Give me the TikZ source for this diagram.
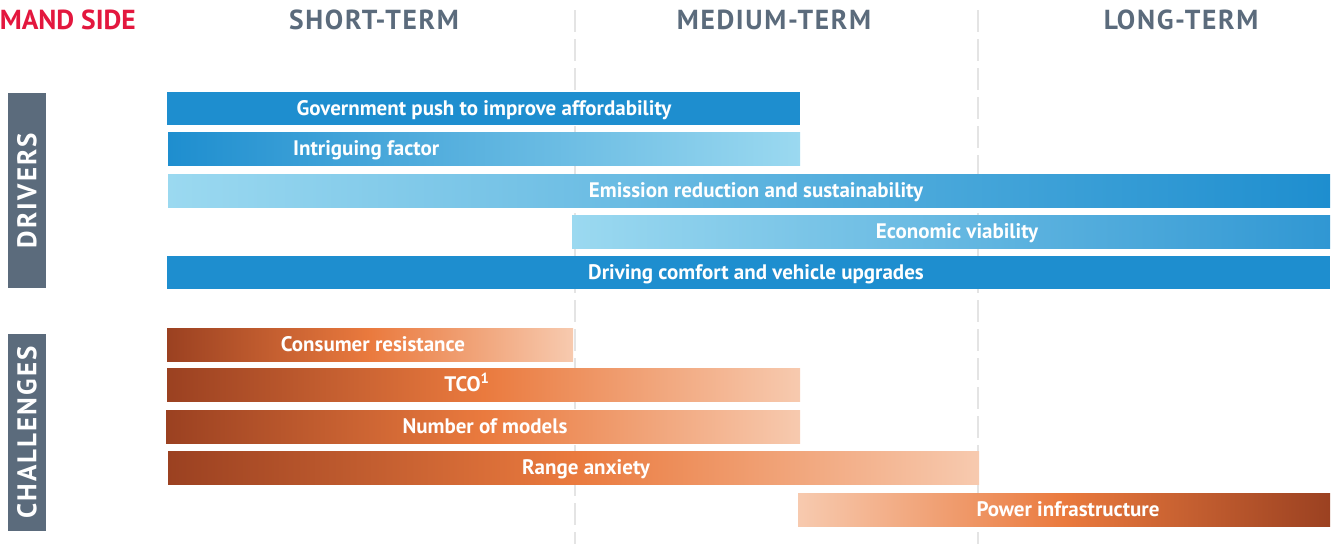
\documentclass[tikz,border=0pt]{standalone}
\usepackage{fontspec}
\setmainfont{PT Sans}
\newfontfamily\spacedfont[LetterSpace=6]{PT Sans}
\newfontfamily\widefont[LetterSpace=8]{PT Sans}

\definecolor{drvblue}{HTML}{1E8ECF}
\definecolor{drvlight}{HTML}{9BD9F0}
\definecolor{chdark}{HTML}{9B4121}
\definecolor{chorange}{HTML}{EA7A3E}
\definecolor{chlight}{HTML}{F7CAAF}
\definecolor{sidegray}{HTML}{5B6B7C}
\definecolor{demandred}{HTML}{E3173E}
\definecolor{dashgray}{HTML}{E4E4E4}

\begin{document}
\begin{tikzpicture}[
    x = 1pt, y = -1pt,
    every node/.style = { inner sep = 0pt },
    bar/.style = { rectangle, anchor = north west, minimum height = 33pt },
    challenge/.style = { left color = chdark, right color = chlight, middle color = chorange },
    barlabel/.style = {
      anchor = base, text = white, font = \bfseries\fontsize{21}{21}\selectfont
    },
    heading/.style = {
      anchor = base, text = sidegray, font = \spacedfont\bfseries\fontsize{27.5}{27.5}\selectfont
    },
    sidebox/.style = {
      rectangle, fill = sidegray, rotate = 90, minimum height = 38pt,
      text = white, font = \widefont\bfseries\fontsize{27}{27}\selectfont
    },
    divider/.style = { dashgray, line width = 2pt, dash pattern = on 22pt off 7pt }
  ]
  \useasboundingbox (0, 0) rectangle (1336, 544);

  % time columns
  \foreach \x in {575, 978}
    \draw[divider] (\x, 10) -- (\x, 544);

  \node[heading, anchor = base east, text = demandred,
    font = \bfseries\fontsize{27.5}{27.5}\selectfont] (demand) at (136, 29.5) {MAND SIDE};
  \node[heading] (short) at (374, 29.5) {SHORT-TERM};
  \node[heading] (medium) at (774, 29.5) {MEDIUM-TERM};
  \node[heading] (long) at (1181, 29.5) {LONG-TERM};

  \node[sidebox, minimum width = 195pt] (drivers) at (27, 190.5) {DRIVERS};
  \node[sidebox, minimum width = 197pt] (challenges) at (27, 432.5) {CHALLENGES};

  % drivers
  \node[bar, minimum width = 633pt, fill = drvblue] (gov) at (167, 92) {};
  \node[bar, minimum width = 632pt, left color = drvblue, right color = drvlight] (intr) at (168, 132) {};
  \node[bar, minimum width = 1162pt, left color = drvlight, right color = drvblue] (emis) at (168, 174) {};
  \node[bar, minimum width = 758pt, left color = drvlight, right color = drvblue!92!white] (econ) at (572, 215) {};
  \node[bar, minimum width = 1163pt, fill = drvblue] (drive) at (167, 256) {};

  \node[barlabel] (lgov) at (484, 115.5) {Government push to improve affordability};
  \node[barlabel, anchor = base west] (lintr) at (293, 155.5) {Intriguing factor};
  \node[barlabel] (lemis) at (756, 197.5) {Emission reduction and sustainability};
  \node[barlabel] (lecon) at (957, 238.5) {Economic viability};
  \node[barlabel] (ldrive) at (756, 279.5) {Driving comfort and vehicle upgrades};

  % challenges
  \node[bar, challenge, minimum width = 406pt] (cons) at (167, 328) {};
  \node[bar, challenge, minimum width = 633pt] (tco) at (167, 368) {};
  \node[bar, challenge, minimum width = 634pt] (models) at (166, 410) {};
  \node[bar, challenge, minimum width = 811pt] (range) at (168, 451) {};
  \node[bar, minimum width = 532pt, left color = chlight, right color = chdark, middle color = chorange] (power) at (798, 493) {};

  \node[barlabel] (lcons) at (373, 351.5) {Consumer resistance};
  \node[barlabel] (ltco) at (467, 391.5) {TCO\textsuperscript{1}};
  \node[barlabel] (lmodels) at (485, 433.5) {Number of models};
  \node[barlabel] (lrange) at (586, 474.5) {Range anxiety};
  \node[barlabel] (lpower) at (1068, 516.5) {Power infrastructure};
\end{tikzpicture}
\end{document}
